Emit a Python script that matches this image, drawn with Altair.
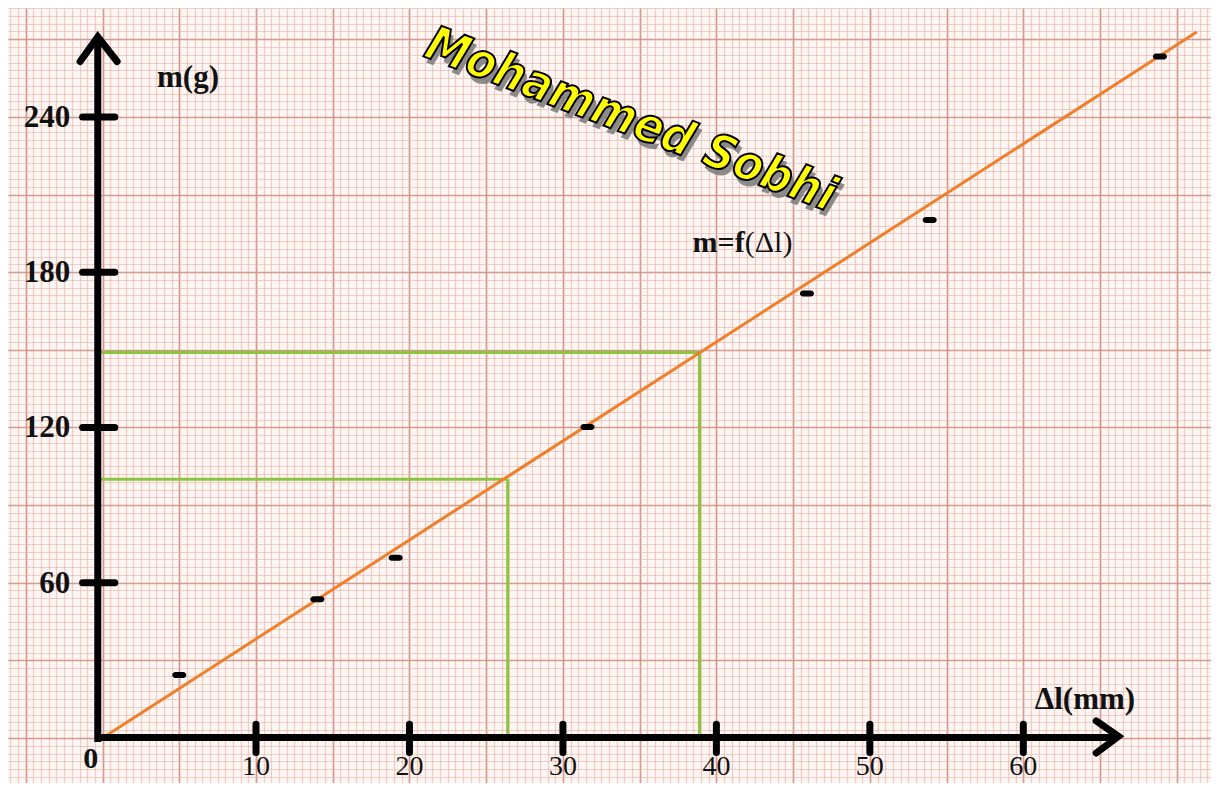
import altair as alt
import pandas as pd
import numpy as np

# ---- data ----
dl_mm = [5.0, 14.0, 19.1, 31.6, 45.9, 53.9, 68.9]
m_g = [24.3, 53.6, 69.6, 120.2, 171.8, 200.2, 263.3]
fit_x = [0.0, 71.3]
fit_y = [0.0, 272.8]
guide_x = [26.4, 38.9]
guide_y = [100.0, 149.0]
x_ticks = [10, 20, 30, 40, 50, 60]
y_ticks = [60, 120, 180, 240]

W, H = 1203, 775
X_DOM = [-6.16, 72.23]
Y_DOM = [-17.39, 282.07]
xs = alt.Scale(domain=X_DOM, nice=False, zero=False)
ys = alt.Scale(domain=Y_DOM, nice=False, zero=False)

SERIF = "Liberation Serif"

pts = pd.DataFrame({"x": dl_mm, "y": m_g})


def grid_layer(xv, yv, color, width, opacity):
    ax = dict(grid=True, gridColor=color, gridWidth=width, gridOpacity=opacity,
              labels=False, ticks=False, domain=False, title=None)
    return alt.Chart(pts).mark_point(opacity=0).encode(
        x=alt.X("x:Q", scale=xs, axis=alt.Axis(values=[float(v) for v in xv], **ax)),
        y=alt.Y("y:Q", scale=ys, axis=alt.Axis(values=[float(v) for v in yv], **ax)),
    )


minor = grid_layer(np.arange(-6, 72.01, 0.5), np.arange(-15, 282.1, 3), "#e6b3a8", 1.2, 0.6)
major = grid_layer(np.arange(-5, 71, 5), np.arange(0, 281, 30), "#cd8c7f", 1.6, 0.8)

X = lambda f: alt.X(f, scale=xs, axis=None)
Y = lambda f: alt.Y(f, scale=ys, axis=None)

# guide (green) lines
gx0 = -0.31
green_df = pd.DataFrame({
    "x": [gx0, guide_x[0], gx0, guide_x[1]],
    "x2": [guide_x[0], guide_x[0], guide_x[1], guide_x[1]],
    "y": [guide_y[0], guide_y[0], guide_y[1], guide_y[1]],
    "y2": [guide_y[0], 0.2, guide_y[1], 0.2],
})
green = alt.Chart(green_df).mark_rule(color="#8cc63f", strokeWidth=3).encode(
    x=X("x:Q"), x2="x2:Q", y=Y("y:Q"), y2="y2:Q")

fit_df = pd.DataFrame({"x": fit_x, "y": fit_y})
fit = alt.Chart(fit_df).mark_line(color="#f07f2c", strokeWidth=3).encode(
    x=X("x:Q"), y=Y("y:Q"))

# axes (drawn as thick black rules)
axes_df = pd.DataFrame({
    "x": [gx0, -0.36], "x2": [gx0, 66.1],
    "y": [-1.5, 0.2], "y2": [270.6, 0.2],
})
axes = alt.Chart(axes_df).mark_rule(color="black", strokeWidth=7).encode(
    x=X("x:Q"), x2="x2:Q", y=Y("y:Q"), y2="y2:Q")

ytick_df = pd.DataFrame({"y": y_ticks})
yt = alt.Chart(ytick_df).mark_rule(color="black", strokeWidth=7, strokeCap="round").encode(
    x=X("a:Q"), x2="b:Q", y=Y("y:Q")).transform_calculate(a="-1.3", b="0.8")
xtick_df = pd.DataFrame({"x": x_ticks})
xt = alt.Chart(xtick_df).mark_rule(color="black", strokeWidth=7, strokeCap="round").encode(
    x=X("x:Q"), y=Y("a:Q"), y2="b:Q").transform_calculate(a="5.3", b="-5.6")

arrow_df = pd.DataFrame({
    "x": [-1.46, gx0, 0.95, 64.75, 66.2, 64.75],
    "y": [261.4, 270.9, 261.4, 6.6, 0.6, -5.8],
    "g": ["y", "y", "y", "x", "x", "x"],
    "o": [0, 1, 2, 0, 1, 2],
})
arrows = alt.Chart(arrow_df).mark_line(color="black", strokeWidth=7, strokeCap="round",
                                        strokeJoin="miter").encode(
    x=X("x:Q"), y=Y("y:Q"), detail="g:N", order="o:Q")

points = alt.Chart(pts).mark_tick(color="black", opacity=1, orient="horizontal", size=14,
                                  thickness=6, cornerRadius=3).encode(
    x=X("x:Q"), y=Y("y:Q"))

# tick labels
ylab = alt.Chart(pd.DataFrame({"y": y_ticks, "t": [str(v) for v in y_ticks]})).mark_text(
    font=SERIF, fontSize=31, fontWeight="bold", align="right", baseline="middle",
    color="#111111", dy=1).encode(
    x=X("a:Q"), y=Y("y:Q"), text="t:N").transform_calculate(a="-2.1")
xlab = alt.Chart(pd.DataFrame({"x": x_ticks, "t": [str(v) for v in x_ticks]})).mark_text(
    font=SERIF, fontSize=28, align="center", baseline="alphabetic",
    color="#111111").encode(
    x=X("x:Q"), y=Y("b:Q"), text="t:N").transform_calculate(b="-14.3")

labels_df = pd.DataFrame({
    "x": [-1.25, 3.55, 60.75, 38.45],
    "y": [-8.3, 255.0, 14.7, 191.3],
    "t": ["0", "m(g)", "Δl(mm)", "m=f"],
    "s": [30, 31, 31, 30],
})
blabels = alt.Chart(labels_df).mark_text(
    font=SERIF, fontWeight="bold", align="left", baseline="middle",
    color="#111111").encode(x=X("x:Q"), y=Y("y:Q"), text="t:N",
                            size=alt.Size("s:Q", scale=None, legend=None))
rlabel = alt.Chart(pd.DataFrame({"x": [41.85], "y": [191.3], "t": ["(Δl)"]})).mark_text(
    font=SERIF, fontSize=30, align="left", baseline="middle",
    color="#111111").encode(x=X("x:Q"), y=Y("y:Q"), text="t:N")

# decorative signature
sig_df = pd.DataFrame({"x": [34.4], "y": [238.5], "t": ["Mohammed Sobhi"]})
sig_shadow = alt.Chart(sig_df).mark_text(
    font="DejaVu Sans Condensed", fontSize=48, fontWeight="bold", fontStyle="italic",
    angle=21, color="#7a7a7a", dx=5, dy=5, opacity=0.85).encode(
    x=X("x:Q"), y=Y("y:Q"), text="t:N")
sig = alt.Chart(sig_df).mark_text(
    font="DejaVu Sans Condensed", fontSize=48, fontWeight="bold", fontStyle="italic",
    angle=21, color="#ffff00", stroke="black", strokeWidth=2).encode(
    x=X("x:Q"), y=Y("y:Q"), text="t:N")

chart = alt.layer(
    minor, major, green, fit, axes, yt, xt, arrows, points,
    ylab, xlab, blabels, rlabel, sig_shadow, sig,
).resolve_axis(x="independent", y="independent").properties(
    width=W, height=H, padding=0, autosize=alt.AutoSizeParams(type="none"),
).configure(background="#fdf6f2").configure_view(stroke=None)

chart.save("out.html", embed_options={"renderer": "svg", "actions": False})
